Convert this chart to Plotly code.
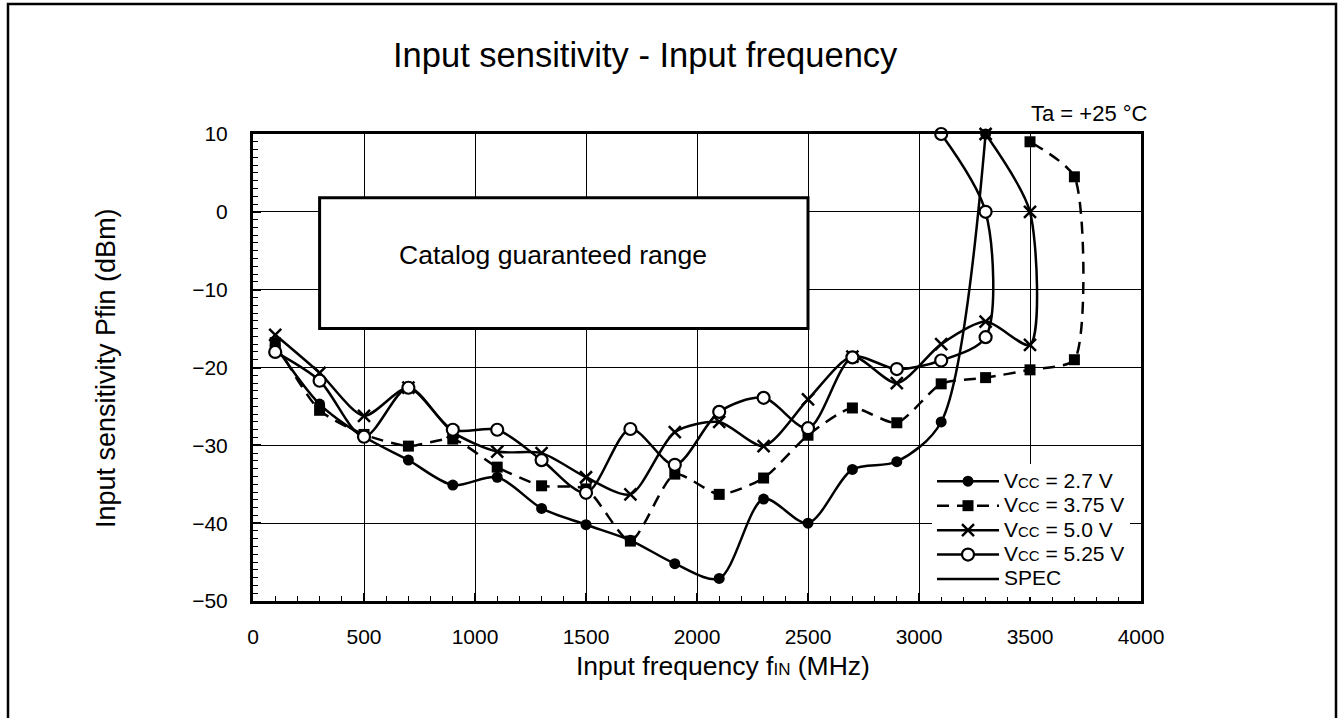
import plotly.graph_objects as go

# ---- data ----
freq_27 = [100, 300, 500, 700, 900, 1100, 1300, 1500, 1700, 1900, 2100, 2300, 2500, 2700, 2900, 3100, 3300]
pfin_27 = [-17.2, -24.7, -28.9, -31.9, -35.1, -34.1, -38.1, -40.2, -42.2, -45.2, -47.1, -36.9, -40.0, -33.1, -32.1, -27.0, 10.0]

freq_375 = [100, 300, 500, 700, 900, 1100, 1300, 1500, 1700, 1900, 2100, 2300, 2500, 2700, 2900, 3100, 3300, 3500, 3700, 3700, 3500]
pfin_375 = [-16.8, -25.5, -28.6, -30.1, -29.2, -32.8, -35.2, -35.6, -42.3, -33.7, -36.3, -34.2, -28.7, -25.2, -27.1, -22.1, -21.3, -20.3, -19.0, 4.5, 9.0]

freq_50 = [100, 300, 500, 700, 900, 1100, 1300, 1500, 1700, 1900, 2100, 2300, 2500, 2700, 2900, 3100, 3300, 3500, 3500, 3300]
pfin_50 = [-15.8, -20.7, -26.2, -22.6, -28.3, -30.8, -31.0, -34.1, -36.3, -28.3, -27.0, -30.1, -24.1, -18.6, -22.0, -17.0, -14.1, -17.1, 0.0, 10.0]

freq_525 = [100, 300, 500, 700, 900, 1100, 1300, 1500, 1700, 1900, 2100, 2300, 2500, 2700, 2900, 3100, 3300, 3300, 3100]
pfin_525 = [-18.0, -21.7, -28.9, -22.6, -28.0, -28.0, -31.9, -36.1, -27.9, -32.5, -25.7, -23.9, -27.8, -18.7, -20.2, -19.1, -16.1, 0.0, 10.0]

spec_freq = [300, 2500]      # catalog guaranteed range (MHz)
spec_pfin = [-15, 1.8]       # catalog guaranteed range (dBm)

series_names = ["2.7 V", "3.75 V", "5.0 V", "5.25 V"]

x_ticks = [0, 500, 1000, 1500, 2000, 2500, 3000, 3500, 4000]
y_ticks = [-50, -40, -30, -20, -10, 0, 10]

FONT = "Arial, 'Liberation Sans', sans-serif"


def vcc_label(v):
    return ("<span style='font-size:21px'>V</span>"
            "<span style='font-size:15px'>CC</span>"
            "<span style='font-size:21px'> = " + v + "</span>")


# plot-area geometry in page pixels (used only to place texts/frame in paper units)
L, R, T, B = 253, 1141, 134, 601
W, H = R - L, B - T


def px(xp):
    return (xp - L) / W


def py(yp):
    return (B - yp) / H


fig = go.Figure()


def add_series(name, x, y, marker, dash="solid", smoothing=0.85):
    fig.add_trace(go.Scatter(
        x=x, y=y, mode="lines+markers", name=name, cliponaxis=False,
        line=dict(color="black", width=2.5, shape="spline", smoothing=smoothing, dash=dash),
        marker=marker))


add_series(vcc_label(series_names[0]), freq_27, pfin_27,
           dict(symbol="circle", size=11, color="black"))
add_series(vcc_label(series_names[1]), freq_375, pfin_375,
           dict(symbol="square", size=11, color="black"), dash="12px,8px", smoothing=0.65)
add_series(vcc_label(series_names[2]), freq_50, pfin_50,
           dict(symbol="x-thin", size=12, color="black", line=dict(color="black", width=2.5)),
           smoothing=0.75)
add_series(vcc_label(series_names[3]), freq_525, pfin_525,
           dict(symbol="circle", size=12, color="white", line=dict(color="black", width=2.2)))
fig.add_trace(go.Scatter(x=[None], y=[None], mode="lines",
                         name="<span style='font-size:21px'>SPEC</span>",
                         line=dict(color="black", width=2.5)))

# catalog guaranteed range box
fig.add_shape(type="rect", xref="x", yref="y",
              x0=spec_freq[0], x1=spec_freq[1], y0=spec_pfin[0], y1=spec_pfin[1],
              line=dict(color="black", width=3), fillcolor="white", layer="above")
fig.add_annotation(x=(spec_freq[0] + spec_freq[1]) / 2 - 50, y=-5.5, xref="x", yref="y",
                   text="Catalog guaranteed range", showarrow=False,
                   xanchor="center", yanchor="middle",
                   font=dict(size=26.5, color="black", family=FONT))

# outer frame
fig.add_shape(type="rect", xref="paper", yref="paper",
              x0=px(8), x1=px(1336), y0=py(740), y1=py(4),
              line=dict(color="black", width=2.5), fillcolor="rgba(0,0,0,0)", layer="below")

# title and notes
fig.add_annotation(x=px(645), y=py(55), xref="paper", yref="paper",
                   xanchor="center", yanchor="middle",
                   text="Input sensitivity - Input frequency", showarrow=False,
                   font=dict(size=34.5, color="black", family=FONT))
fig.add_annotation(x=px(1150), y=py(114), xref="paper", yref="paper",
                   xanchor="right", yanchor="middle", text="Ta = +25 °C", showarrow=False,
                   font=dict(size=22, color="black", family=FONT))
fig.add_annotation(x=px(723), y=py(666), xref="paper", yref="paper",
                   xanchor="center", yanchor="middle",
                   text="Input frequency f<span style='font-size:17px'>IN</span> (MHz)",
                   showarrow=False, font=dict(size=26.5, color="black", family=FONT))
fig.add_annotation(x=px(106), y=py(368), xref="paper", yref="paper",
                   xanchor="center", yanchor="middle",
                   text="Input sensitivity Pfin (dBm)", textangle=-90,
                   showarrow=False, font=dict(size=27, color="black", family=FONT))

axis_common = dict(
    showgrid=True, gridcolor="black", gridwidth=1.3,
    showline=True, linecolor="black", linewidth=3, mirror=True,
    ticks="inside", ticklen=8, tickwidth=1.5, tickcolor="black",
    zeroline=False, tickfont=dict(size=21, color="black", family=FONT),
)

fig.update_xaxes(range=[0, 4000], tickvals=x_ticks, ticklabelstandoff=15,
                 minor=dict(dtick=100, ticks="inside", ticklen=5, tickwidth=1.3,
                            tickcolor="black", showgrid=False),
                 **axis_common)
fig.update_yaxes(range=[-50, 10], tickvals=y_ticks, ticklabelstandoff=18,
                 minor=dict(dtick=1, ticks="inside", ticklen=5, tickwidth=1.3,
                            tickcolor="black", showgrid=False),
                 **axis_common)

fig.update_layout(
    width=1339, height=718,
    margin=dict(l=L, r=1339 - R, t=T, b=718 - B),
    plot_bgcolor="white", paper_bgcolor="white",
    font=dict(family=FONT, color="black"),
    showlegend=True,
    legend=dict(x=px(932), y=py(464), xanchor="left", yanchor="top",
                bgcolor="white", borderwidth=0, tracegroupgap=0, itemwidth=62,
                font=dict(size=16.5, color="black", family=FONT)),
)

fig.write_html("out.html", config={"displayModeBar": False},
               post_script="document.body.style.margin='0px';")
